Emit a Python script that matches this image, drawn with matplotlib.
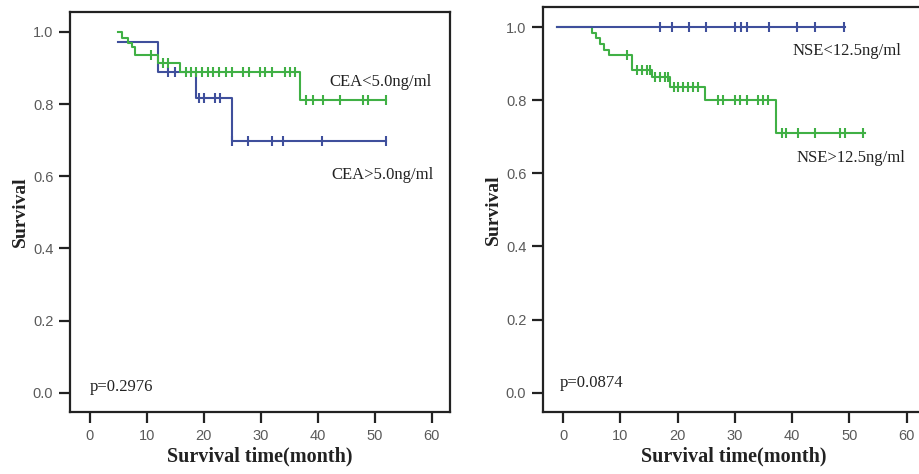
import numpy as np
import matplotlib
matplotlib.use("Agg")
import matplotlib.pyplot as plt

# ---------------- data ----------------
x_ticks = [0, 10, 20, 30, 40, 50, 60]
y_ticks = [0.0, 0.2, 0.4, 0.6, 0.8, 1.0]

# Left panel: CEA
cea_low_label = "CEA<5.0ng/ml"
cea_low_t = [5.0, 5.7, 6.7, 7.3, 7.9, 12.0, 15.8, 36.8, 52.0]
cea_low_s = [1.0, 0.982, 0.969, 0.957, 0.936, 0.913, 0.890, 0.810, 0.810]
cea_low_cens = [10.8, 12.9, 13.7, 16.8, 17.8, 18.7, 19.7, 20.8, 21.6, 22.7, 23.8,
                24.9, 26.9, 27.9, 29.8, 30.7, 31.9, 34.2, 35.1, 36.0,
                38.0, 39.2, 40.9, 43.9, 47.9, 48.8, 51.9]

cea_high_label = "CEA>5.0ng/ml"
cea_high_t = [5.0, 12.0, 18.7, 24.9, 52.0]
cea_high_s = [0.973, 0.890, 0.816, 0.699, 0.699]
cea_high_cens = [13.7, 14.9, 19.2, 20.0, 21.9, 22.9, 25.0, 27.8, 31.9, 33.8, 40.8, 51.9]

cea_p = "p=0.2976"

# Right panel: NSE
nse_low_label = "NSE<12.5ng/ml"
nse_low_t = [-1.0, 49.2]
nse_low_s = [1.0, 1.0]
nse_low_cens = [16.9, 19.0, 22.0, 25.0, 30.0, 31.0, 32.1, 36.0, 40.9, 44.0, 49.1]

nse_high_label = "NSE>12.5ng/ml"
nse_high_t = [-1.0, 5.0, 5.8, 6.5, 7.2, 8.1, 12.0, 15.5, 18.7, 24.8, 37.2, 52.7]
nse_high_s = [1.0, 0.985, 0.969, 0.954, 0.938, 0.923, 0.884, 0.864, 0.837, 0.800, 0.710, 0.710]
nse_high_cens = [11.1, 12.9, 13.7, 14.6, 15.2, 16.1, 16.9, 17.8, 18.4,
                 19.3, 20.1, 21.0, 21.9, 22.7, 23.6,
                 27.1, 28.0, 30.0, 30.9, 32.1, 34.1, 34.9, 35.8,
                 38.2, 39.0, 41.1, 44.0, 48.3, 49.2, 52.3]

nse_p = "p=0.0874"

GREEN = "#40b045"
BLUE = "#3f4f9c"

# ---------------- plotting ----------------
fig = plt.figure(figsize=(9.19, 4.74), dpi=100)
W, H = 919, 474


def px_axes(l, r, t, b):
    return fig.add_axes([l / W, (H - b) / H, (r - l) / W, (b - t) / H])


def km(ax, t, s, cens, color):
    t = np.asarray(t)
    s = np.asarray(s)
    ax.step(t, s, where="post", color=color, lw=1.5, zorder=3)
    c = np.asarray(cens)
    idx = np.searchsorted(t, c, side="right") - 1
    idx = np.clip(idx, 0, len(s) - 1)
    ax.plot(c, s[idx], linestyle="none", marker="|", ms=6.5, mew=1.5,
            color=color, zorder=4)


def style(ax):
    ax.set_xlim(-3.5, 63.2)
    ax.set_ylim(-0.053, 1.055)
    ax.set_xticks(x_ticks)
    ax.set_yticks(y_ticks)
    ax.set_yticklabels([f"{v:.1f}" for v in y_ticks])
    for sp in ax.spines.values():
        sp.set_linewidth(1.6)
        sp.set_color("#222222")
    ax.tick_params(direction="out", length=8, width=1.6, color="#222222",
                   labelsize=10.5, labelcolor="#5a5a5a", pad=4)
    for lab in ax.get_xticklabels() + ax.get_yticklabels():
        lab.set_family("Liberation Sans")
    ax.set_xlabel("Survival time(month)", family="Liberation Serif",
                  fontweight="bold", fontsize=14.5, color="#222222", labelpad=3)
    ax.set_ylabel("Survival", family="Liberation Serif",
                  fontweight="bold", fontsize=14, color="#222222", labelpad=3)


txt = dict(family="Liberation Serif", fontsize=12, color="#222222", va="center")

# left
ax1 = px_axes(70, 450, 12, 412)
style(ax1)
km(ax1, cea_high_t, cea_high_s, cea_high_cens, BLUE)
km(ax1, cea_low_t, cea_low_s, cea_low_cens, GREEN)
ax1.text(42.1, 0.861, cea_low_label, **txt)
ax1.text(42.3, 0.604, cea_high_label, **txt)
ax1.text(0.0, 0.016, cea_p, **txt)

# right
ax2 = px_axes(543, 925, 7, 412)
style(ax2)
km(ax2, nse_high_t, nse_high_s, nse_high_cens, GREEN)
km(ax2, nse_low_t, nse_low_s, nse_low_cens, BLUE)
ax2.text(40.1, 0.935, nse_low_label, **txt)
ax2.text(40.8, 0.641, nse_high_label, **txt)
ax2.text(-0.5, 0.027, nse_p, **txt)

fig.savefig("out.png", dpi=100)
